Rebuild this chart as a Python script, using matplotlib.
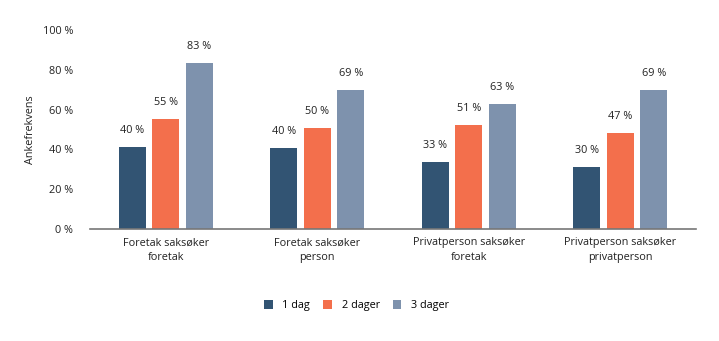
import matplotlib.pyplot as plt
import numpy as np

plt.rcParams['font.family'] = ['Open Sans', 'DejaVu Sans']

# data
categories = ['Foretak saksøker\nforetak', 'Foretak saksøker\nperson',
              'Privatperson saksøker\nforetak', 'Privatperson saksøker\nprivatperson']
series = ['1 dag', '2 dager', '3 dager']
dag1 = [41.3, 40.5, 33.7, 31.4]
dager2 = [55.5, 50.6, 52.2, 48.1]
dager3 = [83.2, 69.7, 63.0, 69.7]
labels1 = ['40 %', '40 %', '33 %', '30 %']
labels2 = ['55 %', '50 %', '51 %', '47 %']
labels3 = ['83 %', '69 %', '63 %', '69 %']
yticks = [0, 20, 40, 60, 80, 100]

colors = ['#325473', '#F36F4C', '#7E92AD']

fig = plt.figure(figsize=(7.19, 3.41), dpi=100)
ax = fig.add_axes([0.125, 0.328, 0.843, 0.584])

x = np.arange(len(categories))
w = 0.178
step = 0.221
for i, (vals, labs) in enumerate(zip([dag1, dager2, dager3], [labels1, labels2, labels3])):
    pos = x + (i - 1) * step
    ax.bar(pos, vals, width=w, color=colors[i], label=series[i], zorder=2)
    for p, v, t in zip(pos, vals, labs):
        ax.annotate(t, (p, v), xytext=(0, 8), textcoords='offset points',
                    ha='center', va='bottom', fontsize=7.8, color='#222222')

ax.set_xlim(-0.5, 3.5)
ax.set_ylim(0, 100)
ax.set_yticks(yticks)
ax.set_yticklabels([f'{t} %' for t in yticks])
ax.set_xticks(x)
ax.set_xticklabels(categories, fontsize=7.8, linespacing=1.45)
ax.tick_params(axis='both', length=0, labelsize=7.8, colors='#222222')
ax.tick_params(axis='y', pad=12)
ax.tick_params(axis='x', pad=6)
ax.set_ylabel('Ankefrekvens', fontsize=7.8, color='#222222', labelpad=5)

for s in ['top', 'right', 'left']:
    ax.spines[s].set_visible(False)
ax.spines['bottom'].set_color('#777777')
ax.spines['bottom'].set_linewidth(1.2)

ax.legend(loc='center', bbox_to_anchor=(0.44, -0.385), ncol=3, frameon=False,
          fontsize=7.8, handlelength=0.8, handleheight=0.8, columnspacing=1.2,
          handletextpad=0.9)

fig.savefig('out.png', dpi=100)
